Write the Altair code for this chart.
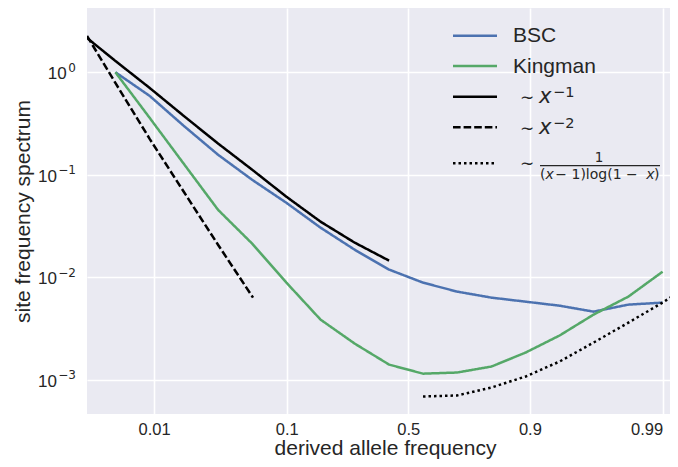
import altair as alt
import numpy as np
import pandas as pd

# ---------------- data ----------------
grid_freq = [0.005, 0.00925, 0.0170, 0.0311, 0.0562, 0.0995, 0.170, 0.275, 0.414,
             0.566, 0.707, 0.818, 0.893, 0.939, 0.966, 0.9816, 0.99]
bsc_sfs = [1.0, 0.588, 0.300, 0.157, 0.0893, 0.0533, 0.0305, 0.0186, 0.0119,
           0.00888, 0.00726, 0.00634, 0.00579, 0.00529, 0.00463, 0.00542, 0.00567]
kingman_sfs = [1.0, 0.359, 0.128, 0.0456, 0.0213, 0.00888, 0.00387, 0.00226, 0.00141,
               0.00115, 0.00118, 0.00135, 0.00185, 0.00271, 0.00433, 0.00649, 0.01135]

inv1_freq = [0.003, 0.005, 0.00925, 0.0170, 0.0311, 0.0562, 0.0995, 0.170, 0.275, 0.414]
inv1_sfs = [2.16, 1.289, 0.703, 0.375, 0.202, 0.112, 0.0611, 0.0349, 0.0218, 0.01455]

inv2_freq = [0.003, 0.005, 0.00925, 0.0170, 0.0311, 0.0570]
inv2_sfs = [2.26, 0.787, 0.224, 0.0683, 0.0208, 0.00634]

log_freq = [0.566, 0.707, 0.818, 0.893, 0.939, 0.966, 0.9816, 0.99, 0.9924]
log_sfs = [6.89e-4, 7.05e-4, 8.43e-4, 1.08e-3, 1.51e-3, 2.31e-3, 3.62e-3, 5.67e-3, 7.10e-3]

series_names = ["BSC", "Kingman", "x^-1", "x^-2", "log"]
series_colors = ["#4C72B0", "#55A868", "#000000", "#000000", "#000000"]
series_dashes = [[1, 0], [1, 0], [1, 0], [7.6, 3], [2.5, 3]]

x_tick_freqs = [0.01, 0.1, 0.5, 0.9, 0.99]
x_tick_labels = ["0.01", "0.1", "0.5", "0.9", "0.99"]
y_tick_values = [1, 0.1, 0.01, 0.001]
y_tick_base = ["10", "10", "10", "10"]
y_tick_exps = ["0", "\u22121", "\u22122", "\u22123"]

x_domain_freq = [0.0030, 0.99124]
y_domain = [4.65e-4, 4.23]

# ---------------- build table ----------------
rows = []
for name, fr, sf in [("BSC", grid_freq, bsc_sfs), ("Kingman", grid_freq, kingman_sfs),
                     ("x^-1", inv1_freq, inv1_sfs), ("x^-2", inv2_freq, inv2_sfs),
                     ("log", log_freq, log_sfs)]:
    for i, (f, s) in enumerate(zip(fr, sf)):
        rows.append({"series": name, "freq": f, "sfs": s, "idx": i})
df = pd.DataFrame(rows)

def logit(p):
    return float(np.log(p / (1 - p)))

x_dom = [logit(p) for p in x_domain_freq]
x_tick_vals = [logit(p) for p in x_tick_freqs]
x_expr = " : ".join(
    f"abs(datum.value - ({v:.6f})) < 0.001 ? '{lab}'" for v, lab in zip(x_tick_vals, x_tick_labels)
) + " : ''"

TXT = "#262626"
W, H = 583, 406
yscale = alt.Scale(type="log", domain=y_domain, nice=False)
yaxis = alt.Axis(values=y_tick_values, labels=False, title="site frequency spectrum",
                 titleX=-57.5, titleY=203, titleBaseline="alphabetic", titleAlign="center",
                 titleAngle=270)

base = alt.Chart(df).transform_calculate(
    lg="log(datum.freq/(1-datum.freq))"
).mark_line(strokeWidth=2.5, clip=True).encode(
    x=alt.X("lg:Q", scale=alt.Scale(domain=x_dom, nice=False, zero=False),
            axis=alt.Axis(values=x_tick_vals, labelExpr=x_expr, title="derived allele frequency",
                          labelFont="Liberation Sans", labelFontSize=16.5, labelPadding=7,
                          labelFlush=10,
                          titleBaseline="alphabetic", titleY=40.5, titleX=298, titleAlign="center")),
    y=alt.Y("sfs:Q", scale=yscale, axis=yaxis),
    color=alt.Color("series:N", scale=alt.Scale(domain=series_names, range=series_colors), legend=None),
    strokeDash=alt.StrokeDash("series:N", scale=alt.Scale(domain=series_names, range=series_dashes), legend=None),
    order=alt.Order("idx:Q"),
)

# ---------------- y tick labels (10 with superscript exponent) ----------------
ylab_df = pd.DataFrame({"sfs": y_tick_values, "b": y_tick_base, "e": y_tick_exps})
ylab_df["bx"] = [-20.3 if e == "0" else -30.0 for e in y_tick_exps]
ylab_base = alt.Chart(ylab_df).mark_text(
    font="Liberation Sans", fontSize=17, align="right", baseline="alphabetic", dy=7, color=TXT
).encode(x=alt.X("bx:Q", scale=None), y=alt.Y("sfs:Q", scale=yscale, axis=yaxis), text="b:N")
ylab_exp = alt.Chart(ylab_df).mark_text(
    font="DejaVu Sans", fontSize=12, align="right", baseline="alphabetic", dy=-0.6, color=TXT
).encode(x=alt.value(-11), y=alt.Y("sfs:Q", scale=yscale, axis=yaxis), text="e:N")

# ---------------- manual legend ----------------
leg_df = pd.DataFrame({"series": series_names, "ly": [27.7, 58.0, 88.7, 119.3, 155.3]})
leg_lines = alt.Chart(leg_df).mark_rule(strokeWidth=2.5).encode(
    x=alt.value(366), x2=alt.value(410),
    y=alt.Y("ly:Q", scale=None),
    color=alt.Color("series:N", scale=alt.Scale(domain=series_names, range=series_colors), legend=None),
    strokeDash=alt.StrokeDash("series:N", scale=alt.Scale(domain=series_names, range=series_dashes), legend=None),
)

one = pd.DataFrame({"k": [0]})

def txt(s, x, y, size, font="DejaVu Sans", style="normal", align="left", baseline="alphabetic"):
    return alt.Chart(one).mark_text(text=s, font=font, fontSize=size, fontStyle=style,
                                    align=align, baseline=baseline, color=TXT).encode(
        x=alt.value(x), y=alt.value(y))

texts = [
    txt("BSC", 426, 28, 21, font="Liberation Sans", baseline="middle"),
    txt("Kingman", 426, 58.5, 21, font="Liberation Sans", baseline="middle"),
    txt("\u223c", 433, 90, 17, baseline="middle"),
    txt("x", 452, 95, 21, style="italic"),
    txt("\u22121", 466, 89, 14.5),
    txt("\u223c", 433, 120.5, 17, baseline="middle"),
    txt("x", 452, 125.5, 21, style="italic"),
    txt("\u22122", 466, 119.5, 14.5),
    txt("\u223c", 433, 156, 17, baseline="middle"),
    txt("1", 512, 154, 13.5, align="center"),
    txt("(", 453, 171, 14),
    txt("x", 458.5, 171, 14, style="italic"),
    txt(" \u2212 1)log(1 \u2212 ", 468.3, 171, 14),
    txt("x", 559.2, 171, 14, style="italic"),
    txt(")", 567.0, 171, 14),
]
frac_bar = alt.Chart(one).mark_rule(strokeWidth=1.3, color=TXT).encode(
    x=alt.value(453), x2=alt.value(573), y=alt.value(157.7))

chart = alt.layer(base, ylab_base, ylab_exp, leg_lines, frac_bar, *texts).properties(
    width=W, height=H,
    padding={"left": 79, "top": 0, "right": 0, "bottom": 45},
    autosize=alt.AutoSizeParams(type="none"),
).configure_view(
    fill="#EAEAF2", stroke=None
).configure_axis(
    domain=False, ticks=False, grid=True, gridColor="#FFFFFF", gridWidth=1.6,
    labelColor=TXT, titleColor=TXT, titleFont="Liberation Sans", titleFontSize=21,
    titleFontWeight="normal"
)

chart.save("out.html", embed_options={"renderer": "svg", "actions": False})
